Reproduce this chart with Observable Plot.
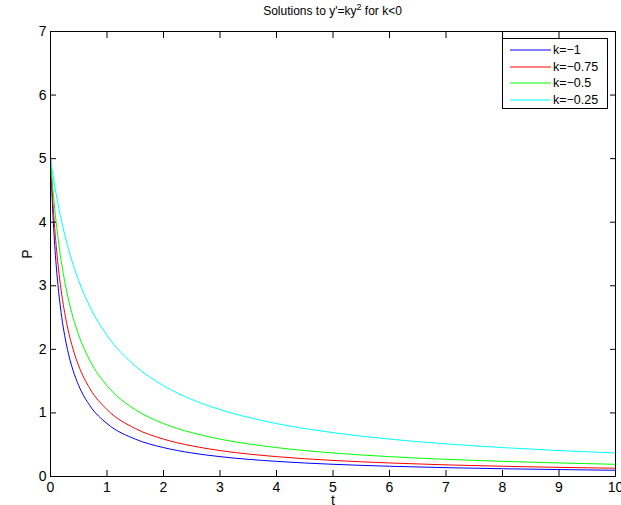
<!DOCTYPE html>
<html>
<head>
<meta charset="utf-8">
<script src="https://cdn.jsdelivr.net/npm/d3@7"></script>
<script src="https://cdn.jsdelivr.net/npm/@observablehq/plot@0.6"></script>
<style>
  html, body { margin: 0; padding: 0; background: #fff; }
  #wrap { position: relative; width: 621px; height: 505px; font-family: "Liberation Sans", Arial, Helvetica, sans-serif; }
  #title { position: absolute; top: 2px; left: 50px; width: 565px; text-align: center; font-size: 12px; color: #000; }
  #legend { position: absolute; left: 502px; top: 38px; width: 104px; height: 69px; border: 1px solid #000; background: #fff; font-size: 12.5px; }
  .row { position: absolute; left: 0; height: 16px; display: flex; align-items: center; }
  .row svg { margin-left: 7px; margin-right: 2px; }
</style>
</head>
<body>
<div id="wrap">
  <div id="title">Solutions to y'=ky<sup style="font-size:9px">2</sup> for k&lt;0</div>
</div>
<script>
// time points
const t = [0, 0.05, 0.1, 0.15, 0.2, 0.3, 0.4, 0.5, 0.7, 1, 1.5, 2, 2.5, 3, 4, 5, 6, 7, 8, 9, 10];
// P values for each k
const pK100 = [5, 4.0, 3.333, 2.857, 2.5, 2.0, 1.667, 1.429, 1.111, 0.833, 0.588, 0.455, 0.370, 0.3125, 0.238, 0.192, 0.161, 0.139, 0.122, 0.109, 0.098];
const pK075 = [5, 4.211, 3.636, 3.2, 2.857, 2.353, 2.0, 1.739, 1.379, 1.053, 0.755, 0.588, 0.482, 0.408, 0.3125, 0.253, 0.213, 0.183, 0.161, 0.144, 0.130];
const pK050 = [5, 4.444, 4.0, 3.636, 3.333, 2.857, 2.5, 2.222, 1.818, 1.429, 1.053, 0.833, 0.690, 0.588, 0.455, 0.370, 0.3125, 0.270, 0.238, 0.213, 0.192];
const pK025 = [5, 4.706, 4.444, 4.211, 4.0, 3.636, 3.333, 3.077, 2.667, 2.222, 1.739, 1.429, 1.212, 1.053, 0.833, 0.690, 0.588, 0.513, 0.455, 0.408, 0.370];

const seriesNames = ["k=\u22121", "k=\u22120.75", "k=\u22120.5", "k=\u22120.25"];
const seriesValues = [pK100, pK075, pK050, pK025];
const seriesColors = ["#0000ff", "#ff0000", "#00ff00", "#00ffff"];

const xTicks = [0, 1, 2, 3, 4, 5, 6, 7, 8, 9, 10];
const yTicks = [0, 1, 2, 3, 4, 5, 6, 7];

const rows = [];
seriesValues.forEach((vals, i) => {
  vals.forEach((v, j) => rows.push({t: t[j], P: v, s: seriesNames[i]}));
});

const fmt = d => String(d);
const blank = () => "";

const chart = Plot.plot({
  width: 621,
  height: 505,
  marginLeft: 50,
  marginRight: 6,
  marginTop: 31,
  marginBottom: 29,
  style: {fontFamily: "'Liberation Sans', Arial, Helvetica, sans-serif", fontSize: "14px", color: "#000", background: "#fff"},
  x: {domain: [0, 10]},
  y: {domain: [0, 7]},
  marks: [
    ...seriesNames.map((name, i) =>
      Plot.line(rows.filter(d => d.s === name), {x: "t", y: "P", stroke: seriesColors[i], strokeWidth: 1, curve: "monotone-x"})
    ),
    Plot.frame({stroke: "#000", strokeWidth: 1}),
    Plot.axisX({anchor: "bottom", ticks: xTicks, tickSize: 0, tickPadding: 6, tickFormat: fmt, label: "t", labelAnchor: "center", labelOffset: 28, labelArrow: "none", fontSize: 14}),
    Plot.axisX({anchor: "bottom", ticks: xTicks, tickSize: 6, dy: -6, tickFormat: blank, label: null}),
    Plot.axisX({anchor: "top", ticks: xTicks, tickSize: 6, dy: 6, tickFormat: blank, label: null}),
    Plot.axisY({anchor: "left", ticks: yTicks, tickSize: 0, tickPadding: 4, tickFormat: fmt, label: "P", labelAnchor: "center", labelOffset: 28, labelArrow: "none", fontSize: 14}),
    Plot.axisY({anchor: "left", ticks: yTicks, tickSize: 6, dx: 6, tickFormat: blank, label: null}),
    Plot.axisY({anchor: "right", ticks: yTicks, tickSize: 6, dx: -6, tickFormat: blank, label: null})
  ]
});

const wrap = document.getElementById("wrap");
wrap.insertBefore(chart, wrap.firstChild);
chart.style.display = "block";

// legend
const legend = document.createElement("div");
legend.id = "legend";
seriesNames.forEach((name, i) => {
  const row = document.createElement("div");
  row.className = "row";
  row.style.top = (3 + i * 16.5) + "px";
  row.innerHTML = `<svg width="41" height="4"><line x1="0" y1="2" x2="41" y2="2" stroke="${seriesColors[i]}" stroke-width="1"/></svg><span>${name}</span>`;
  legend.appendChild(row);
});
wrap.appendChild(legend);
</script>
</body>
</html>
